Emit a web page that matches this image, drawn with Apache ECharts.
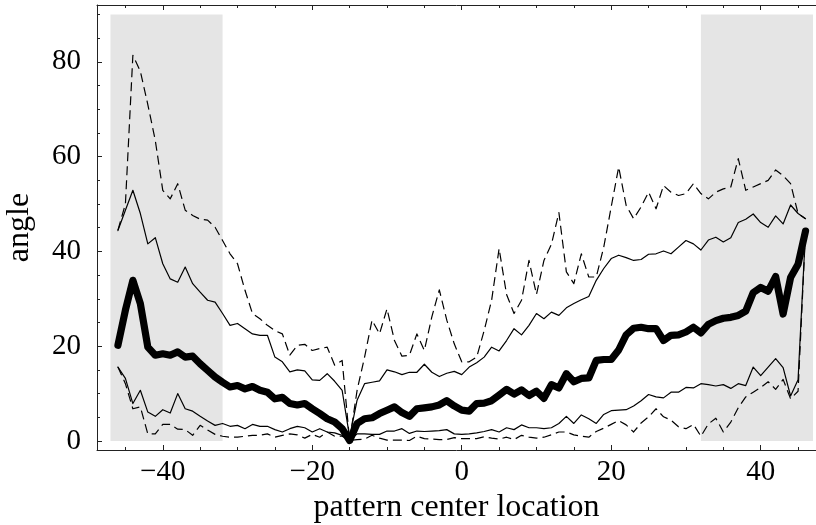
<!DOCTYPE html>
<html>
<head>
<meta charset="utf-8">
<script src="https://cdn.jsdelivr.net/npm/echarts@6/dist/echarts.min.js"></script>
<style>
html,body{margin:0;padding:0;background:#fff;}
#chart{width:816px;height:525px;}
</style>
</head>
<body>
<div id="chart"></div>
<script>
// x positions (pattern center location)
var xs = [-46,-45,-44,-43,-42,-41,-40,-39,-38,-37,-36,-35,-34,-33,-32,-31,-30,-29,-28,-27,-26,-25,-24,-23,-22,-21,-20,-19,-18,-17,-16,-15,-14,-13,-12,-11,-10,-9,-8,-7,-6,-5,-4,-3,-2,-1,0,1,2,3,4,5,6,7,8,9,10,11,12,13,14,15,16,17,18,19,20,21,22,23,24,25,26,27,28,29,30,31,32,33,34,35,36,37,38,39,40,41,42,43,44,45,46];

// thick line (median)
var median = [20.2,27.6,33.9,29.0,19.8,18.1,18.4,18.1,18.8,17.7,17.9,16.3,14.9,13.5,12.4,11.4,11.7,11.0,11.5,10.7,10.3,8.9,9.2,7.9,7.6,7.9,6.8,5.8,4.7,4.0,2.6,0.1,3.7,4.7,4.9,5.8,6.5,7.2,6.0,5.2,6.8,7.0,7.2,7.6,8.5,7.4,6.5,6.3,7.9,8.0,8.5,9.7,10.9,9.9,10.8,9.6,10.5,9.0,11.9,11.2,14.2,12.5,13.2,13.3,17.0,17.2,17.2,19.2,22.4,23.8,24.0,23.7,23.7,21.2,22.3,22.4,23.0,24.0,22.8,24.6,25.4,25.9,26.1,26.5,27.4,31.3,32.4,31.6,34.7,26.8,34.5,37.3,44.3];

// thin solid upper
var upperQ = [44.4,48.7,52.9,48.0,41.6,42.9,37.4,34.2,33.5,36.7,33.2,31.4,29.7,29.3,26.9,24.4,24.8,23.7,22.6,22.3,22.3,17.7,16.7,14.6,15.0,14.8,12.9,12.8,14.2,12.6,10.7,0.8,8.6,12.1,12.4,12.7,15.0,14.6,14.0,14.5,14.5,16.2,14.5,13.6,14.3,14.7,14.0,15.6,16.5,17.7,19.8,19.0,21.2,23.7,22.4,24.4,26.9,25.8,27.2,26.5,28.1,29.0,29.8,30.5,33.9,36.4,38.5,39.2,38.7,38.1,38.3,39.4,39.5,40.1,39.5,40.9,42.3,41.6,40.3,42.4,43.0,42.0,42.9,46.1,46.8,47.9,46.1,45.1,47.5,45.8,49.8,48.0,46.9];

// dashed upper
var upperMax = [44.5,50.0,81.4,78.0,71.0,63.4,52.9,51.1,54.3,48.7,47.6,46.8,46.6,45.1,42.3,39.5,37.4,31.8,26.9,25.8,24.4,23.3,22.6,18.1,20.2,20.4,19.1,19.5,19.8,16.0,17.0,0.1,10.7,17.7,25.5,22.6,27.9,21.2,17.9,18.1,22.6,19.1,26.2,31.9,25.5,20.5,16.7,16.7,17.7,23.3,29.7,40.6,30.9,26.9,29.7,38.1,30.9,38.1,41.5,48.2,35.7,33.2,39.5,34.6,34.6,40.9,49.4,57.8,49.7,46.9,49.4,52.5,49.0,53.9,52.5,51.8,52.2,54.3,52.2,51.1,52.5,53.2,53.6,59.6,52.9,53.6,54.3,55.0,57.2,56.0,54.3,48.0,46.9];

// thin solid lower
var lowerQ = [15.6,13.2,7.9,10.7,6.1,5.2,6.6,5.9,10.0,6.8,6.3,5.2,4.2,3.3,3.7,3.1,3.3,2.6,3.5,3.1,3.1,2.4,1.9,2.6,3.1,2.8,1.9,2.6,1.9,1.7,1.2,0.1,1.5,1.5,1.4,1.4,2.1,2.1,2.6,1.6,2.1,2.0,2.1,2.2,2.4,1.5,1.4,1.5,1.7,2.0,2.4,1.9,2.8,2.4,3.4,2.8,2.8,2.6,2.8,3.7,5.2,3.7,5.5,4.7,3.7,5.6,6.4,6.5,6.6,7.4,8.5,9.8,9.3,9.1,10.3,10.3,11.3,11.2,12.1,11.9,11.6,11.9,11.1,12.1,11.7,15.6,13.8,15.6,17.4,15.5,9.5,12.9,44.3];

// dashed lower
var lowerMin = [15.6,12.1,6.8,7.2,1.5,1.5,3.5,3.5,2.5,2.4,1.2,3.3,2.3,1.4,1.0,0.8,0.8,1.0,1.2,1.2,1.5,0.8,1.2,1.5,1.3,0.6,1.4,0.8,1.9,1.0,1.0,0.1,0.3,0.4,1.2,0.6,0.2,0.2,0.2,0.1,1.0,0.5,0.4,0.3,0.3,0.7,0.5,0.5,0.5,0.9,0.6,0.4,0.8,0.3,1.2,0.8,0.6,0.8,1.3,1.9,1.9,1.3,1.0,0.8,2.0,2.7,3.5,4.3,3.4,1.9,3.8,5.1,6.8,5.1,4.4,3.0,2.6,3.5,1.0,3.6,4.8,1.9,4.0,7.0,9.3,10.3,11.3,12.5,10.9,13.0,8.9,10.5,44.3];

// shaded x ranges and their top
var shadeRanges = [[-47, -32], [32, 47]];
var shadeTop = 90;

// ticks
var xMajor = [-40, -20, 0, 20, 40];
var xMinor = [-45, -35, -30, -25, -15, -10, -5, 5, 10, 15, 25, 30, 35, 45];
var yMajor = [0, 20, 40, 60, 80];
var yMinor = [5, 10, 15, 25, 30, 35, 45, 50, 55, 65, 70, 75, 85, 90];

var xTitle = 'pattern center location';
var yTitle = 'angle';

function pairs(ys) { return xs.map(function (x, i) { return [x, ys[i]]; }); }

var FONT = '"Liberation Serif", "Times New Roman", serif';
var AX = '#222';
var XMIN = -48.8, XMAX = 47.4, YMIN = -1.9, YMAX = 92;

function fmt(v) { return v < 0 ? '\u2212' + Math.abs(v) : String(v); }

function xAx(pos, ticks, len, labels, showLine, name) {
  var o = {
    type: 'value', position: pos, min: XMIN, max: XMAX,
    splitLine: { show: false },
    axisLine: { show: showLine, onZero: false, lineStyle: { color: AX, width: 1 } },
    axisTick: { show: true, inside: true, length: len, customValues: ticks, lineStyle: { color: AX, width: 1 } },
    axisLabel: labels ? { show: true, customValues: ticks, formatter: fmt, fontFamily: FONT, fontSize: 29, color: '#000', margin: 8 } : { show: false }
  };
  if (name) {
    o.name = name; o.nameLocation = 'middle'; o.nameGap = 40;
    o.nameTextStyle = { fontFamily: FONT, fontSize: 32, color: '#000' };
  }
  return o;
}
function yAx(ticks, len, labels, showLine, name) {
  var o = {
    type: 'value', position: 'left', min: YMIN, max: YMAX,
    splitLine: { show: false },
    axisLine: { show: showLine, onZero: false, lineStyle: { color: AX, width: 1 } },
    axisTick: { show: true, inside: true, length: len, customValues: ticks, lineStyle: { color: AX, width: 1 } },
    axisLabel: labels ? { show: true, customValues: ticks, formatter: fmt, fontFamily: FONT, fontSize: 29, color: '#000', margin: 16 } : { show: false }
  };
  if (name) {
    o.name = name; o.nameLocation = 'middle'; o.nameGap = 61; o.nameRotate = 90;
    o.nameTextStyle = { fontFamily: FONT, fontSize: 32, color: '#000' };
  }
  return o;
}

var chart = echarts.init(document.getElementById('chart'), null, { renderer: 'canvas' });

var shadeData = shadeRanges.map(function (r) {
  return [{ xAxis: r[0], yAxis: 0 }, { xAxis: r[1], yAxis: shadeTop }];
});

function lineSeries(name, ys, width, type, z) {
  return {
    name: name, type: 'line', data: pairs(ys), xAxisIndex: 0, yAxisIndex: 0,
    symbol: 'none', smooth: false, z: z, animation: false, silent: true,
    lineStyle: { color: '#000', width: width, type: type, cap: type === 'solid' ? 'round' : 'butt', join: 'round' }
  };
}

var s0 = lineSeries('max', upperMax, 1.2, [9, 5], 3);
s0.markArea = { silent: true, itemStyle: { color: '#e5e5e5' }, data: shadeData };

chart.setOption({
  animation: false,
  backgroundColor: '#fff',
  grid: { left: 97, right: 0, top: 5, bottom: 75, containLabel: false, outerBoundsMode: 'none' },
  xAxis: [
    xAx('bottom', xMajor, 5, true, true, xTitle),
    xAx('bottom', xMinor, 3, false, false),
    xAx('top', xMajor, 5, false, true),
    xAx('top', xMinor, 3, false, false)
  ],
  yAxis: [
    yAx(yMajor, 5, true, true, yTitle),
    yAx(yMinor, 3, false, false)
  ],
  series: [
    s0,
    lineSeries('min', lowerMin, 1.2, [9, 5], 3),
    lineSeries('upper', upperQ, 1.2, 'solid', 4),
    lineSeries('lower', lowerQ, 1.2, 'solid', 4),
    lineSeries('median', median, 7.2, 'solid', 5)
  ]
});
</script>
</body>
</html>
